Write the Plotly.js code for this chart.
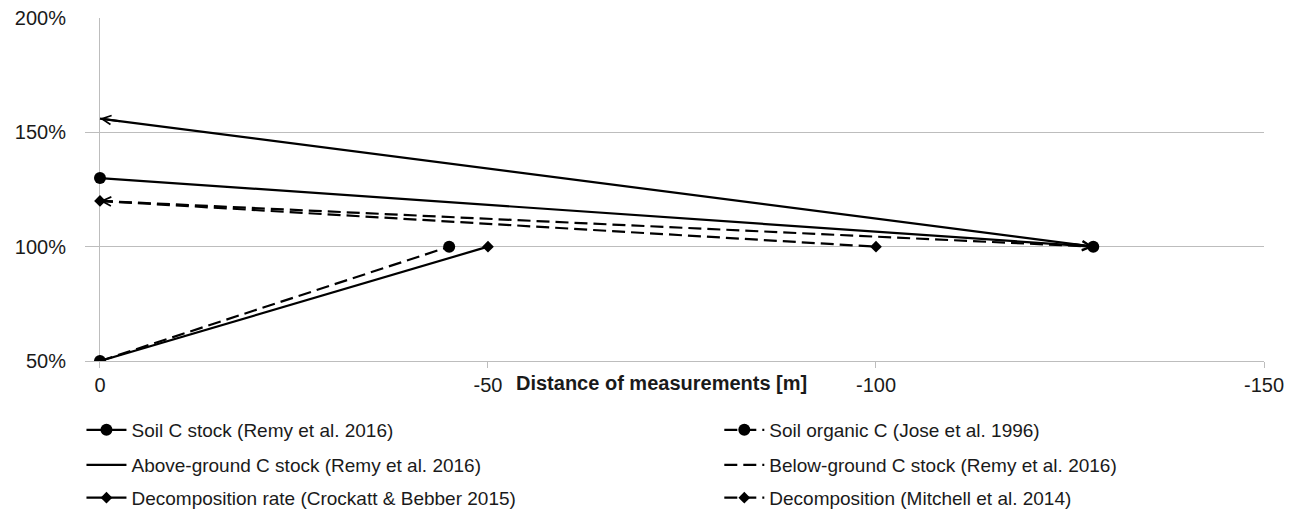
<!DOCTYPE html>
<html>
<head>
<meta charset="utf-8">
<script src="https://cdn.plot.ly/plotly-3.0.1.min.js"></script>
<style>html,body{margin:0;padding:0;background:#fff;}#chart{width:1297px;height:511px;}</style>
</head>
<body>
<div id="chart"></div>
<script>
// ---- data ----
const seriesNames = [
  "Soil C stock (Remy et al. 2016)",
  "Soil organic C (Jose et al. 1996)",
  "Above-ground C stock (Remy et al. 2016)",
  "Below-ground C stock (Remy et al. 2016)",
  "Decomposition rate (Crockatt & Bebber 2015)",
  "Decomposition (Mitchell et al. 2014)"
];
const soilCStockX = [0, -128];
const soilCStockY = [130, 100];
const soilOrgCX = [0, -45];
const soilOrgCY = [50, 100];
const aboveGroundX = [0, -128];
const aboveGroundY = [156, 100];
const belowGroundX = [0, -128];
const belowGroundY = [120, 100];
const decompRateX = [0, -50];
const decompRateY = [50, 100];
const decompMitchellX = [0, -100];
const decompMitchellY = [120, 100];
const xTickVals = [0, -50, -100, -150];
const xTickText = ["0", "-50", "-100", "-150"];
const yTickVals = [50, 100, 150, 200];
const yTickText = ["50%", "100%", "150%", "200%"];

// ---- styles ----
const FONT = "Liberation Sans, Arial, sans-serif";
const TXT = "#1a1a1a";
const GRID = "#bdbdbd";
const DASH = "13px,6px";

const seriesDefs = [
  {x: soilCStockX, y: soilCStockY, dash: "solid", mode: "lines+markers", symbol: "circle", size: 12},
  {x: soilOrgCX, y: soilOrgCY, dash: DASH, mode: "lines+markers", symbol: "circle", size: 12},
  {x: aboveGroundX, y: aboveGroundY, dash: "solid", mode: "lines", symbol: "circle", size: 0},
  {x: belowGroundX, y: belowGroundY, dash: DASH, mode: "lines", symbol: "circle", size: 0},
  {x: decompRateX, y: decompRateY, dash: "solid", mode: "lines+markers", symbol: "diamond", size: 9},
  {x: decompMitchellX, y: decompMitchellY, dash: DASH, mode: "lines+markers", symbol: "diamond", size: 9}
];

const legendIds = ["legend", "legend2", "legend3", "legend4", "legend5", "legend6"];

const traces = seriesDefs.map((s, i) => ({
  type: "scatter",
  x: s.x, y: s.y,
  mode: s.mode,
  name: seriesNames[i],
  legend: legendIds[i],
  line: {color: "#000", width: 2.2, dash: s.dash},
  marker: {symbol: s.symbol, size: s.size, color: "#000"},
  hoverinfo: "skip"
}));

// arrowheads for the two arrow series (both ends)
const annotations = [];
[[aboveGroundX, aboveGroundY], [belowGroundX, belowGroundY]].forEach(([xs, ys]) => {
  annotations.push({x: xs[0], y: ys[0], ax: xs[1], ay: ys[1], xref: "x", yref: "y", axref: "x", ayref: "y",
    text: "", showarrow: true, arrowhead: 5, arrowsize: 0.9, arrowwidth: 2, arrowcolor: "#000", startstandoff: 980});
  annotations.push({x: xs[1], y: ys[1], ax: xs[0], ay: ys[0], xref: "x", yref: "y", axref: "x", ayref: "y",
    text: "", showarrow: true, arrowhead: 5, arrowsize: 0.9, arrowwidth: 2, arrowcolor: "#000", startstandoff: 980});
});

// x-axis title as annotation (placed like the original)
annotations.push({
  text: "<b>Distance of measurements [m]</b>", xref: "paper", yref: "paper",
  x: 0.4886, y: -0.064, xanchor: "center", yanchor: "middle", showarrow: false,
  font: {family: FONT, size: 20, color: TXT}
});

const legendPos = [
  [-0.003, -0.201], [0.538, -0.201],
  [-0.003, -0.303], [0.538, -0.303],
  [-0.003, -0.399], [0.538, -0.399]
];

const layout = {
  width: 1297, height: 511,
  margin: {l: 85, r: 33, t: 18, b: 150, autoexpand: false},
  paper_bgcolor: "#fff", plot_bgcolor: "#fff",
  font: {family: FONT, size: 19, color: TXT},
  showlegend: true,
  xaxis: {
    range: [1.93, -150],
    tickvals: xTickVals, ticktext: xTickText,
    showgrid: false,
    zeroline: true, zerolinecolor: GRID, zerolinewidth: 1,
    showline: true, linecolor: GRID, linewidth: 1,
    ticks: "outside", ticklen: 6, tickcolor: GRID,
    ticklabelstandoff: 0,
    tickfont: {family: FONT, size: 20, color: TXT}
  },
  yaxis: {
    range: [50, 200],
    tickvals: yTickVals, ticktext: yTickText,
    showgrid: true, gridcolor: GRID, gridwidth: 1,
    zeroline: false, showline: false,
    ticks: "", ticklabelstandoff: 18,
    tickfont: {family: FONT, size: 20, color: TXT}
  },
  annotations: annotations
};

legendIds.forEach((id, i) => {
  layout[id] = {
    x: legendPos[i][0], y: legendPos[i][1], xanchor: "left", yanchor: "middle",
    xref: "paper", yref: "paper",
    orientation: "h", itemwidth: 40,
    bgcolor: "rgba(0,0,0,0)", borderwidth: 0,
    font: {family: FONT, size: 19, color: TXT}
  };
});

Plotly.newPlot("chart", traces, layout, {displayModeBar: false, staticPlot: true});
</script>
</body>
</html>
